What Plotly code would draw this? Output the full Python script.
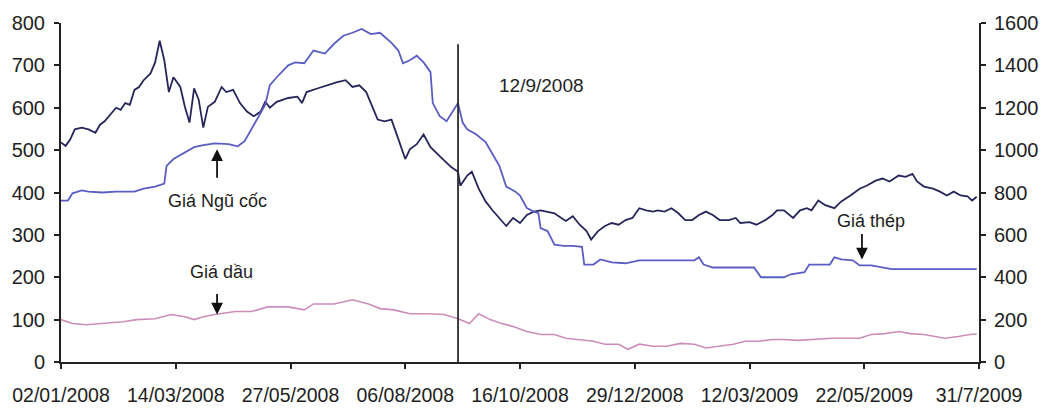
import plotly.graph_objects as go

# Trading-day index (0 = 02/01/2008) and axis labels every 50 sessions
tick_days = [0, 50, 100, 150, 200, 250, 300, 350, 400]
tick_labels = ["02/01/2008", "14/03/2008", "27/05/2008", "06/08/2008", "16/10/2008",
               "29/12/2008", "12/03/2009", "22/05/2009", "31/7/2009"]

# Grain price (left axis)
grain_days = [0, 2, 4, 6, 9, 12, 15, 17, 19, 21, 24, 26, 28, 30, 32, 34, 36, 39, 41, 43,
              45, 47, 49, 52, 54, 56, 58, 60, 62, 64, 67, 70, 72, 75, 78, 81, 84, 87, 89, 91,
              94, 99, 103, 105, 107, 112, 116, 120, 124, 127, 130, 133, 135, 138, 141, 144,
              147, 150, 152, 155, 158, 161, 165, 170, 173, 174, 177, 179, 182, 185, 188, 191,
              194, 197, 200, 203, 206, 209, 212, 215, 218, 220, 223, 226, 229, 231, 234, 237,
              240, 243, 246, 249, 252, 255, 258, 260, 263, 266, 269, 272, 275, 278, 281, 284,
              287, 291, 294, 296, 300, 303, 307, 310, 312, 315, 319, 322, 325, 327, 330, 333,
              337, 340, 344, 348, 351, 355, 358, 361, 365, 368, 371, 373, 376, 380, 383, 386,
              389, 392, 395, 397, 399]
grain_vals = [518, 510, 525, 549, 553, 549, 541, 560, 568, 580, 600, 595, 611, 607, 642, 649,
              665, 681, 707, 758, 712, 637, 672, 649, 602, 565, 646, 619, 553, 602, 614, 649,
              637, 642, 611, 591, 580, 591, 614, 600, 614, 623, 626, 611, 637, 646, 653, 660,
              665, 649, 653, 637, 611, 572, 568, 572, 526, 479, 502, 514, 537, 507, 486, 460,
              449, 416, 440, 449, 409, 379, 358, 340, 321, 340, 328, 347, 355, 358, 355, 351,
              340, 333, 344, 324, 309, 289, 309, 321, 328, 324, 335, 340, 363, 358, 355, 358,
              355, 363, 351, 335, 335, 347, 355, 347, 335, 335, 340, 328, 330, 324, 335, 347,
              358, 358, 340, 358, 363, 358, 381, 370, 363, 379, 393, 409, 416, 428, 433, 426,
              440, 437, 444, 426, 414, 409, 402, 393, 402, 393, 391, 381, 390]

# Steel price (right axis)
steel_days = [0, 3, 5, 9, 12, 18, 24, 28, 32, 36, 41, 45, 46, 49, 54, 58, 62, 67, 73, 77,
              80, 83, 86, 89, 91, 94, 99, 102, 106, 110, 115, 119, 123, 127, 131, 135, 139,
              144, 147, 149, 152, 155, 158, 161, 162, 165, 168, 171, 173, 175, 177, 181, 185,
              188, 191, 194, 198, 200, 203, 206, 208, 209, 212, 215, 219, 223, 227, 228, 232,
              235, 240, 246, 252, 266, 276, 278, 280, 284, 293, 302, 305, 310, 315, 318, 324,
              326, 335, 337, 340, 345, 348, 353, 359, 362, 373, 399]
steel_vals = [762, 762, 796, 810, 804, 800, 804, 804, 804, 818, 828, 842, 926, 958, 990, 1014,
              1024, 1032, 1028, 1018, 1042, 1098, 1160, 1214, 1306, 1344, 1400, 1414, 1410,
              1470, 1456, 1502, 1540, 1554, 1572, 1548, 1554, 1506, 1470, 1410, 1424, 1446,
              1414, 1368, 1222, 1160, 1136, 1190, 1222, 1130, 1098, 1074, 1038, 982, 926, 828,
              804, 786, 726, 710, 702, 632, 618, 554, 548, 548, 544, 460, 460, 484, 470, 466,
              480, 480, 480, 494, 460, 446, 446, 446, 400, 400, 400, 414, 424, 460, 460, 494,
              484, 480, 456, 456, 446, 438, 438, 438]

# Oil price (left axis)
oil_days = [0, 5, 11, 19, 27, 33, 41, 48, 54, 58, 62, 67, 76, 83, 90, 99, 106, 110, 119, 127,
            134, 139, 145, 152, 160, 167, 173, 178, 182, 187, 192, 197, 203, 209, 215, 220,
            226, 232, 237, 243, 247, 252, 258, 264, 270, 276, 281, 287, 293, 298, 304, 310,
            315, 321, 327, 336, 342, 348, 353, 359, 365, 370, 376, 382, 385, 391, 396, 399]
oil_vals = [100, 91, 88, 91, 95, 100, 102, 112, 107, 100, 107, 112, 119, 119, 130, 130, 123,
            137, 137, 147, 137, 126, 123, 114, 114, 112, 102, 91, 114, 100, 91, 84, 72, 65, 65,
            56, 53, 49, 42, 42, 30, 42, 37, 37, 44, 42, 33, 37, 42, 49, 49, 53, 53, 51, 53, 56,
            56, 56, 65, 67, 72, 67, 65, 60, 56, 60, 65, 66]

# Marker for the 12/9/2008 session
event_day = 173
event_top = 750
event_label = "12/9/2008"

INK = "#1e1e1e"
FONT = "Liberation Sans, Arial, sans-serif"

fig = go.Figure()
fig.add_trace(go.Scatter(x=steel_days, y=steel_vals, mode="lines", yaxis="y2",
                         line=dict(color="#5a5ec4", width=1.8), name="Giá thép"))
fig.add_trace(go.Scatter(x=grain_days, y=grain_vals, mode="lines",
                         line=dict(color="#26265a", width=1.8), name="Giá Ngũ cốc"))
fig.add_trace(go.Scatter(x=oil_days, y=oil_vals, mode="lines",
                         line=dict(color="#cc8dbb", width=1.6), name="Giá dầu"))

fig.add_shape(type="line", xref="x", yref="y", x0=event_day, x1=event_day,
              y0=0, y1=event_top, line=dict(color="#2b2b2b", width=1.8))

fig.add_annotation(x=190, y=653, xref="x", yref="y", text=event_label, showarrow=False,
                   xanchor="left", font=dict(size=19, color=INK, family=FONT))

# Series labels with pointer arrows
arrow = dict(showarrow=True, arrowhead=2, arrowsize=1.3, arrowwidth=1.8,
             arrowcolor="#111", axref="pixel", ayref="pixel", text="")
fig.add_annotation(x=68, y=502, ax=0, ay=30, **arrow)
fig.add_annotation(x=68, y=381, text="Giá Ngũ cốc", showarrow=False,
                   font=dict(size=18, color=INK, family=FONT))
fig.add_annotation(x=68, y=112, ax=0, ay=-22, **arrow)
fig.add_annotation(x=70, y=212, text="Giá dầu", showarrow=False,
                   font=dict(size=18, color=INK, family=FONT))
fig.add_annotation(x=349, y=242, ax=0, ay=-27, **arrow)
fig.add_annotation(x=353, y=333, text="Giá thép", showarrow=False,
                   font=dict(size=18, color=INK, family=FONT))

axis_common = dict(showline=True, linecolor="#222", linewidth=2, ticks="outside",
                   ticklen=5, tickwidth=1.6, tickcolor="#222", showgrid=False,
                   zeroline=False)

fig.update_layout(
    width=1051, height=418,
    margin=dict(l=60, r=59, t=22, b=52),
    paper_bgcolor="white", plot_bgcolor="white",
    showlegend=False,
    xaxis=dict(range=[0, 400], tickvals=tick_days, ticktext=tick_labels,
               ticklabelstandoff=10, tickfont=dict(size=19.5, color=INK, family=FONT),
               **axis_common),
    yaxis=dict(range=[0, 800], dtick=100, ticklabelstandoff=5,
               tickfont=dict(size=20, color=INK, family=FONT), **axis_common),
    yaxis2=dict(range=[0, 1600], dtick=200, overlaying="y", side="right",
                ticklabelstandoff=4, tickfont=dict(size=20, color=INK, family=FONT),
                **axis_common),
)

fig.write_html("out.html")
